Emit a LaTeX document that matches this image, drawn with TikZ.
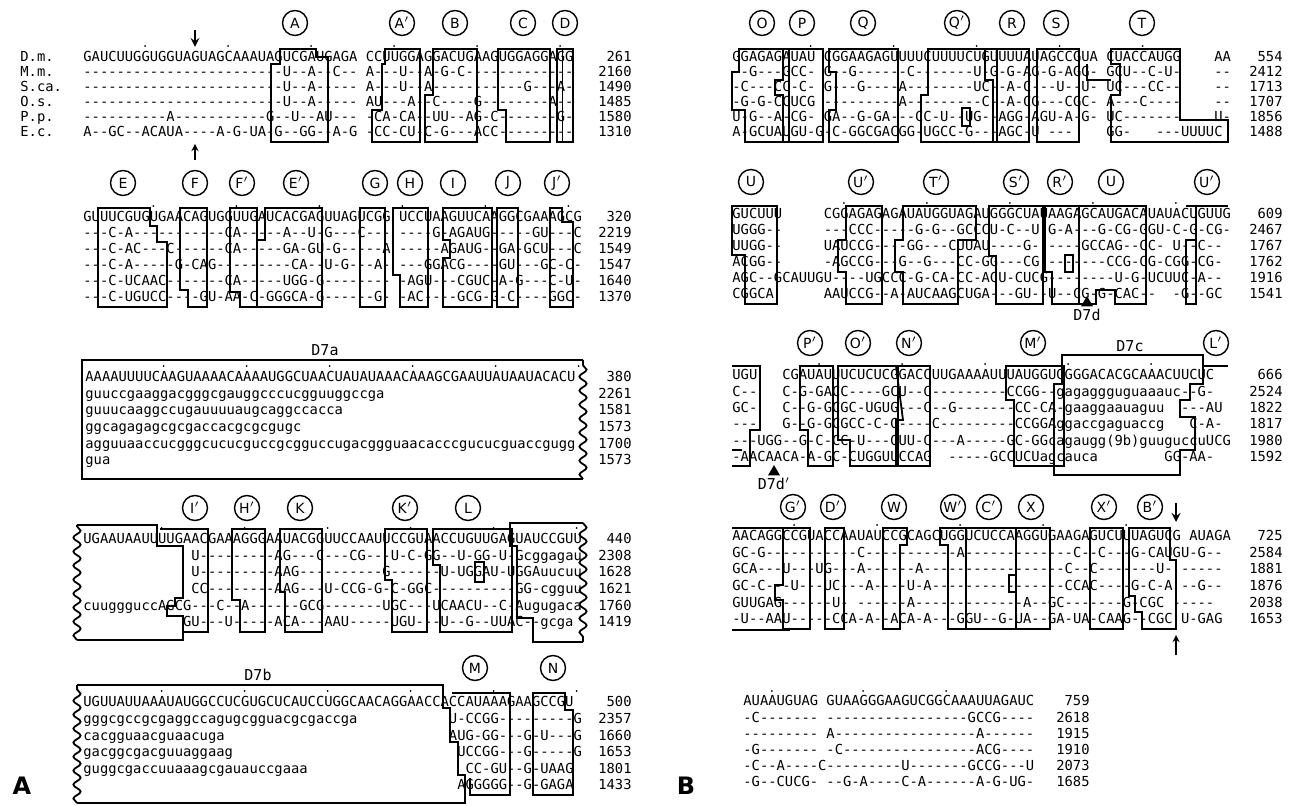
\documentclass[tikz,border=0pt]{standalone}
\usepackage{fontspec}
\setmonofont{DejaVu Sans Mono}
\setsansfont{DejaVu Sans}
\usetikzlibrary{shapes.geometric, arrows, positioning}
\usetikzlibrary{decorations.pathmorphing}

\newlength{\cw}
\AtBeginDocument{\settowidth{\cw}{\ttfamily\fontsize{6.9}{7}\selectfont M}}
\newcommand{\sgap}[1]{\hspace*{#1\cw}}

\begin{document}
\begin{tikzpicture}[x=0.5pt, y=-0.5pt, >=stealth,
    seq/.style={font=\ttfamily\fontsize{6.9}{7}\selectfont, inner sep=0pt, anchor=west, text height=5pt, text depth=1.2pt},
    num/.style={seq, anchor=east},
    hlx/.style={circle, draw, line width=0.7pt, minimum size=12.5pt, inner sep=0pt, font=\sffamily\fontsize{7}{7}\selectfont},
    hx/.style={draw, line width=0.9pt},
    wavy/.style={decorate, decoration={snake, amplitude=1.8pt, segment length=7pt}},
    tag/.style={font=\ttfamily\fontsize{7.5}{8}\selectfont, inner sep=1pt},
    tri/.style={regular polygon, regular polygon sides=3, fill, inner sep=0pt, minimum size=7pt},
    panel/.style={font=\sffamily\bfseries\fontsize{12}{12}\selectfont, inner sep=0pt}]

    \useasboundingbox (0,0) rectangle (1290,806);

    % ---------------- Panel A ----------------

    % Species names
    \foreach \sp [count=\i] in {D.m., M.m., S.ca., O.s., P.p., E.c.}
        \node[seq] (sp\i) at (20, 43+15*\i) {\sp};

    % Block A1: sequences and lengths
    \foreach \s/\n [count=\i] in {
        GAUCUUGGUGGUAGUAGCAAAUAGUCGAUGAGA CCUUGGAGGACUGAAGUGGAGGAGG/261,
        ------------------------U--A--C-- A---U--A-G-C-------------/2160,
        ------------------------U--A----- A---U--A-----------G---A-/1490,
        ------------------------U--A----- AU---A--C----G--------A--/1485,
        ----------A-----------G--U--AU--- -CA-CA--UU--AG-C-------G-/1580,
        A--GC--ACAUA----A-G-UA-G--GG--A-G -CC-CU-C-G---ACC---------/1310}{
        \node[seq] (a1r\i) at (83, 43+15*\i) {\s};
        \node[num] (a1n\i) at (632, 43+15*\i) {\n};
    }
    \foreach \c in {7,17,...,57}
        \fill (87+8.3*\c, 46) circle (1);
    \foreach \l/\x/\n in {A/295/a, A$'$/402/ap, B/455/b, C/523/c, D/565/d}
        \node[hlx] (h\n) at (\x,23) {\l};
    % helices, block A1
    \draw[hx] (280,49) -- (316,49) -- (316,57) -- (328,57) -- (328,142) -- (271,142) -- (271,64) -- (280,64) -- cycle;
    \draw[hx] (385,49) -- (420,49) -- (420,142) -- (372,142) -- (372,110) -- (382,110) -- (382,64) -- (385,64) -- cycle;
    \draw[hx] (433,49) -- (477,49) -- (477,142) -- (425,142) -- (425,95) -- (433,95) -- cycle;
    \draw[hx] (498,49) -- (550,49) -- (550,142) -- (506,142) -- (506,110) -- (498,110) -- cycle;
    \draw[hx] (557,49) rectangle (573,142);
    \draw (562,49) -- (562,142);
    % cut sites
    \coordinate (cut1a) at (195,30);
    \coordinate (cut1b) at (195,47);
    \coordinate (cut2a) at (195,160);
    \coordinate (cut2b) at (195,144);
    \draw[->, line width=1pt] (cut1a) -- (cut1b);
    \draw[->, line width=0.6pt] (cut2a) -- (cut2b);

    % Block A2
    \foreach \s/\n [count=\i] in {
        GUUUCGUGUGAACAGUGGUUGAUCACGAGUUAGUCGG UCCUAAGUUCAAGGCGAAAGCG/320,
        ---C-A-----------CA-----A--U-G---C--- ----G-AGAUG-----GU---C/2219,
        ---C-AC---C------CA-----GA-GU-G-----A -----AGAUG--GA-GCU---C/1549,
        ---C-A-----G-CAG---------CA--U-G---A- ---GGACG----GU---GC-C-/1547,
        ---C-UCAAC-------CA-----UGG-G-------- -AGU---CGUC-A-G---C-U-/1640,
        ---C-UGUCC----GU-AA-C-GGGCA-G------G- -AC----GCG-G-C----GGC-/1370}{
        \node[seq] (a2r\i) at (83, 202+16*\i) {\s};
        \node[num] (a2n\i) at (632, 202+16*\i) {\n};
    }
    \foreach \c in {8,18,...,58}
        \fill (87+8.3*\c, 206) circle (1);
    \foreach \l/\x/\n in {E/123/e, F/195/f, F$'$/242/fp, E$'$/296/ep, G/375/g, H/410/h, I/453/i, J/508/j, J$'$/557/jp}
        \node[hlx] (h\n) at (\x,183) {\l};
    \draw[hx] (98,208) -- (150,208) -- (150,226) -- (157,226) -- (157,242) -- (167,242) -- (167,307) -- (98,307) -- cycle;
    \draw[hx] (180,208) -- (207,208) -- (207,307) -- (188,307) -- (188,290) -- (180,290) -- cycle;
    \draw[hx] (230,208) -- (257,208) -- (257,307) -- (240,307) -- (240,292) -- (230,292) -- cycle;
    \draw[hx] (265,208) -- (322,208) -- (322,307) -- (257,307) -- (257,240) -- (265,240) -- cycle;
    \draw[hx] (360,208) rectangle (385,307);
    \draw[hx] (393,208) -- (428,208) -- (428,307) -- (400,307) -- (400,275) -- (393,275) -- cycle;
    \draw[hx] (443,208) -- (492,208) -- (492,307) -- (443,307) -- (443,258) -- (450,258) -- (450,240) -- (443,240) -- cycle;
    \draw[hx] (497,208) rectangle (518,307);
    \draw[hx] (550,208) -- (562,208) -- (562,222) -- (573,222) -- (573,307) -- (550,307) -- cycle;

    % D7a expansion segment
    \node[tag] (d7a) at (325,350) {D7a};
    \foreach \s/\n [count=\i] in {
        AAAAUUUUCAAGUAAAACAAAAUGGCUAACUAUAUAAACAAAGCGAAUUAUAAUACACU/380,
        guuccgaaggacgggcgauggcccucgguuggccga/2261,
        guuucaaggccugauuuuaugcaggccacca/1581,
        ggcagagagcgcgaccacgcgcgugc/1573,
        agguuaaccucgggcucucguccgcgguccugacggguaacacccgucucguaccgugg/1700,
        gua/1573}{
        \node[seq] (dar\i) at (85, 361.4+16.6*\i) {\s};
        \node[num] (dan\i) at (632, 361.4+16.6*\i) {\n};
    }
    \foreach \c in {9,19,...,59}
        \fill (89+8.3*\c, 366) circle (1);
    \draw[hx] (583,360) -- (82,360) -- (82,479) -- (583,479);
    \draw[hx, wavy] (583,479) -- (583,360);

    % Block A4
    \foreach \s/\n [count=\i] in {
        UGAAUAAUUUUGAACGAAAGGGAAUACGGUUCCAAUUCCGUAACCUGUUGAGUAUCCGUU/440,
        \sgap{13}U---------AG---C---CG---U-C-GG--U-GG-U-Gcggagau/2308,
        \sgap{13}U---------AAG----------G------U-UGGAU-UGGAuucuu/1628,
        \sgap{13}CC--------AAG---U-CCG-G-C-GGC----------GG-cgguu/1621,
        cuuggguccAGCG---C--A------GCG-------UGC---UCAACU--C-Augugaca/1760,
        \sgap{12}GU---U-----ACA---AAU-----UGU---U--G--UUAC--gcga/1419}{
        \node[seq] (a4r\i) at (83, 523.4+16.6*\i) {\s};
        \node[num] (a4n\i) at (632, 523.4+16.6*\i) {\n};
    }
    \foreach \c in {9,19,...,59}
        \fill (87+8.3*\c, 528) circle (1);
    \foreach \l/\x/\n in {I$'$/195/ip, H$'$/247/hp, K/300/k, K$'$/405/kp, L/468/l}
        \node[hlx] (h\n) at (\x,508) {\l};
    \draw[hx] (77,525) -- (157,525) -- (157,546) -- (183,546) -- (183,598) -- (175,598) -- (175,606) -- (167,606) -- (167,616) -- (183,616) -- (183,640) -- (77,640);
    \draw[hx, wavy] (77,640) -- (77,525);
    \draw[hx] (160,529) -- (208,529) -- (208,632) -- (183,632);
    \draw[hx] (232,529) -- (265,529) -- (265,632) -- (240,632) -- (240,600) -- (232,600) -- cycle;
    \draw[hx] (280,529) -- (322,529) -- (322,632) -- (285,632) -- (285,592) -- (280,592) -- cycle;
    \draw[hx] (385,529) -- (427,529) -- (427,632) -- (392,632) -- (392,580) -- (385,580) -- cycle;
    \draw[hx] (433,529) -- (512,529) -- (512,632) -- (440,632) -- (440,565) -- (433,565) -- cycle;
    \draw[hx] (475,562) rectangle (484,582);
    \draw[hx] (583,642) -- (533,642) -- (533,618) -- (517,618) -- (517,546) -- (510,546) -- (510,523) -- (583,523);
    \draw[hx, wavy] (583,523) -- (583,642);

    % D7b expansion segment
    \node[tag] (d7b) at (258,675) {D7b};
    \foreach \s/\n [count=\i] in {
        UGUUAUUAAAUAUGGCCUCGUGCUCAUCCUGGCAACAGGAACCACCAUAAAGAAGCCGU/500,
        gggcgccgcgaggccagugcgguacgcgaccga\sgap{11}U-CCGG---------G/2357,
        cacgguaacguaacuga\sgap{27}AUG-GG---G-U---G/1660,
        gacggcgacguuaggaag\sgap{27}UCCGG---G-----G/1653,
        guggcgaccuuaaagcgauauccgaaa\sgap{19}CC-GU--G-UAAG/1801,
        \sgap{45}AGGGGG--G-GAGA/1433}{
        \node[seq] (dbr\i) at (83, 686.4+16.6*\i) {\s};
        \node[num] (dbn\i) at (632, 686.4+16.6*\i) {\n};
    }
    \foreach \c in {9,19,...,59}
        \fill (87+8.3*\c, 691) circle (1);
    \foreach \l/\x/\n in {M/475/m, N/553/n}
        \node[hlx] (h\n) at (\x,668) {\l};
    \draw[hx] (77,685) -- (443,685) -- (443,708) -- (450,708) -- (450,742) -- (458,742) -- (458,775) -- (465,775) -- (465,803) -- (77,803);
    \draw[hx, wavy] (77,803) -- (77,685);
    \draw[hx] (452,693) -- (510,693) -- (510,795) -- (470,795) -- (470,778);
    \draw[hx] (533,693) -- (565,693) -- (565,710) -- (573,710) -- (573,795) -- (533,795) -- cycle;

    \node[panel] (pA) at (22,786) {A};

    % ---------------- Panel B ----------------

    % Block B1
    \foreach \s/\n [count=\i] in {
        GGAGAGAUAU CGGAAGAGUUUUCUUUUCUGUUUUAUAGCCGUA CUACCAUGG\sgap{4}AA/554,
        --G---GCC- G--G------C-------U-G-G-AG-G-AGG- GCU--C-U-\sgap{4}--/2412,
        -C---CC-C- G---G----A--------UC--A-C---U--U- UC---CC--\sgap{4}--/1713,
        -G-G-CCUCG ---------A---------C--A-CG---CGC- A---C----\sgap{4}--/1707,
        U-G--A-CG- GA--G-GA---CC-U--UG--AGG-AGU-A-G- UC-------\sgap{4}U-/1856,
        A-GCUAUGU-G-C-GGCGACGG-UGCC-G---AGC-U ---\sgap{4}GG-\sgap{3}---UUUUC/1488}{
        \node[seq] (b1r\i) at (732, 43+15*\i) {\s};
        \node[num] (b1n\i) at (1283, 43+15*\i) {\n};
    }
    \foreach \c in {9,19,...,49}
        \fill (736+8.3*\c, 46) circle (1);
    \foreach \l/\x/\n in {O/762/o, P/802/p, Q/863/q, Q$'$/957/qp, R/1012/r, S/1056/s, T/1142/t}
        \node[hlx] (h\n) at (\x,23) {\l};
    \draw[hx] (739,49) -- (789,49) -- (789,142) -- (745,142) -- (745,110) -- (732,110) -- (732,72) -- (739,72) -- cycle;
    \draw[hx] (783,49) -- (823,49) -- (823,142) -- (783,142) -- (783,95) -- (775,95) -- (775,80) -- (783,80) -- cycle;
    \draw[hx] (829,49) -- (898,49) -- (898,142) -- (829,142) -- (829,110) -- (836,110) -- (836,72) -- (829,72) -- cycle;
    \draw[hx] (928,49) -- (997,49) -- (997,142) -- (921,142) -- (921,95) -- (928,95) -- cycle;
    \draw[hx] (962,108) rectangle (970,126);
    \draw[hx] (985,49) -- (1029,49) -- (1029,142) -- (993,142) -- (993,80) -- (985,80) -- cycle;
    \draw[hx] (1037,49) -- (1079,49) -- (1079,142) -- (1037,142) -- cycle;
    \draw[hx] (1111,49) -- (1180,49) -- (1180,120) -- (1228,120) -- (1228,142) -- (1111,142) -- (1111,95) -- (1120,95) -- (1120,64) -- (1111,64) -- cycle;
    \draw[hx] (1087,64) -- (1087,80) -- (1111,80);

    % Block B2
    \foreach \s/\n [count=\i] in {
        GUCUUU\sgap{5}CGGAGAGAGAUAUGGUAGAUGGGCUAUAAGAGCAUGACAUAUACUGUUG/609,
        UGGG--\sgap{5}---CCC-----G-G--GCCCU-C--U-G-A---G-CG-GGU-C-G-CG-/2467,
        UUGG--\sgap{5}UAUCCG----GG---CUUAU----G------GCCAG--CC- U--C--/1767,
        ACGG--\sgap{5}-AGCCG---G--G---CC-GG---CG--------CCG-CG-CGG-CG-/1762,
        AGC--GCAUUGU----UGCCC-G-CA-CC-ACU-CUCG--------U-G-UCUUC-A--/1916,
        CGGCA\sgap{6}AAUCCG--A-AUCAAGCUGA---GU--U--CG-G-CAC--\sgap{2}-G--GC/1541}{
        \node[seq] (b2r\i) at (732, 199+16*\i) {\s};
        \node[num] (b2n\i) at (1283, 199+16*\i) {\n};
    }
    \foreach \c in {13,23,...,53}
        \fill (736+8.3*\c, 203) circle (1);
    \foreach \l/\x/\n in {U/751/u, U$'$/861/up, T$'$/936/tp, S$'$/1016/sp, R$'$/1060/rp, U/1111/v, U$'$/1207/vp}
        \node[hlx] (h\n) at (\x,182) {\l};
    \draw[hx] (732,206) -- (777,206) -- (777,304) -- (745,304) -- (745,255) -- (732,255) -- cycle;
    \draw[hx] (846,206) -- (882,206) -- (882,304) -- (846,304) -- (846,272) -- (838,272) -- (838,240) -- (846,240) -- cycle;
    \draw[hx] (903,206) -- (976,206) -- (976,240) -- (958,240) -- (958,304) -- (903,304) -- (903,272) -- (895,272) -- (895,240) -- (903,240) -- cycle;
    \draw[hx] (989,206) -- (1043,206) -- (1043,304) -- (996,304) -- (996,256) -- (989,256) -- cycle;
    \draw[hx] (1045,206) -- (1079,206) -- (1079,304) -- (1052,304) -- (1052,272) -- (1045,272) -- cycle;
    \draw[hx] (1065,255) rectangle (1073,272);
    \draw[hx] (1079,206) -- (1146,206) -- (1146,304) -- (1115,304) -- (1115,290) -- (1096,290) -- (1096,304) -- (1079,304);
    \draw[hx] (1186,206) -- (1228,206);
    \draw[hx] (1196,206) -- (1196,304) -- (1186,304) -- (1186,240) -- (1196,240);
    \node[tri] (t7d) at (1087,303) {};
    \node[tag, below=0pt of t7d] (l7d) {D7d};

    % Block B3
    \foreach \s/\n [count=\i] in {
        UGU\sgap{3}CGAUAUUUCUCUCGGACCUUGAAAAUUUAUGGUGGGGACACGCAAACUUCUC/666,
        C--\sgap{3}C-G-GACC----GCU--C---------CCGG--gagaggguguaaauc--G-/2524,
        GC-\sgap{3}C--G-GCGC-UGUG---C--G-------CC-CA-gaaggaauaguu\sgap{2}---AU/1822,
        ---\sgap{3}G--G-GCGCC-C-G----C---------CCGGAggaccgaguaccg\sgap{3}C-A-/1817,
        ---UGG--G-C-CC-U---GUU-C---A-----GC-GGcagaugg(9b)guuguccuUCG/1980,
        -AACAACA-A-GC-CUGGUUCCAG\sgap{2}-----GCCUCUagcauca\sgap{8}GG-AA-/1592}{
        \node[seq] (b3r\i) at (732, 359.6+16.4*\i) {\s};
        \node[num] (b3n\i) at (1283, 359.6+16.4*\i) {\n};
    }
    \foreach \c in {10,20,...,50}
        \fill (736+8.3*\c, 364) circle (1);
    \foreach \l/\x/\n in {P$'$/810/pp, O$'$/858/op, N$'$/909/np, M$'$/1033/mp, L$'$/1216/lp}
        \node[hlx] (h\n) at (\x,343) {\l};
    \node[tag] (d7c) at (1130,346) {D7c};
    \draw[hx] (732,366) -- (760,366) -- (760,430) -- (750,430) -- (750,466) -- (732,466);
    \draw[hx] (732,450) -- (742,450);
    \draw[hx] (800,366) -- (833,366) -- (833,466) -- (808,466) -- (808,430) -- (800,430) -- cycle;
    \draw[hx] (838,366) -- (898,366) -- (898,466) -- (850,466) -- (850,440) -- (838,440) -- cycle;
    \draw[hx] (896,366) -- (930,366) -- (930,466) -- (896,466) -- (896,420) -- (903,420) -- cycle;
    \draw[hx] (1006,366) -- (1064,366) -- (1064,466) -- (1014,466) -- (1014,400) -- (1006,400) -- cycle;
    \draw[hx] (1062,355) -- (1203,355) -- (1203,384) -- (1190,384) -- (1190,400) -- (1180,400) -- (1180,417) -- (1195,417) -- (1195,450) -- (1180,450) -- (1180,475) -- (1054,475) -- (1054,384) -- (1062,384) -- cycle;
    \draw[hx] (1203,366) -- (1228,366);
    \node[tri] (t7dp) at (774,472) {};
    \node[tag, below=0pt of t7dp] (l7dp) {D7d$'$};

    % Block B4
    \foreach \s/\n [count=\i] in {
        AACAGGCCGUACCAAUAUCCGCAGCUGGUCUCCAAGGUGAAGAGUCUUUAGUCG AUAGA/725,
        GC-G-----------C-----------A-------------C--C---G-CAUGU-G--/2584,
        GCA---U---UG---A------A-----------------C--C-------U- -----/1881,
        GC-C---U---UC---A----U-A----------------CCAC----G-C-A --G--/1876,
        GUUGAG------U- ------A-------------A--GC-------G-CGC -----/2038,
        -U--AAU-----CCA-A--ACA-A---GGU--G-UA--GA-UA-CAAG--CGC U-GAG/1653}{
        \node[seq] (b4r\i) at (732, 520.4+16.6*\i) {\s};
        \node[num] (b4n\i) at (1283, 520.4+16.6*\i) {\n};
    }
    \foreach \c in {7,17,...,47}
        \fill (736+8.3*\c, 525) circle (1);
    \foreach \l/\x/\n in {G$'$/793/gp, D$'$/833/dp, W/894/w, W$'$/953/wp, C$'$/989/cp, X/1031/x, X$'$/1104/xp, B$'$/1150/bp}
        \node[hlx] (h\n) at (\x,507) {\l};
    \draw[line width=1.2pt] (732,528) -- (790,528);
    \draw[line width=1.2pt] (732,630) -- (790,630);
    \draw[hx] (783,528) -- (810,528) -- (810,629) -- (783,629) -- (783,600) -- (775,600) -- (775,585) -- (783,585) -- cycle;
    \draw[hx] (825,528) rectangle (844,629);
    \draw[hx] (883,528) -- (907,528) -- (907,545) -- (900,545) -- (900,629) -- (883,629) -- cycle;
    \draw[hx] (940,528) -- (966,528) -- (966,629) -- (948,629) -- (948,545) -- (940,545) -- cycle;
    \draw[hx] (966,528) -- (1016,528) -- (1016,629) -- (966,629);
    \draw[hx] (1009,575) rectangle (1016,592);
    \draw[hx] (1016,528) -- (1050,528) -- (1050,629) -- (1016,629);
    \draw[hx] (1090,528) -- (1123,528) -- (1123,629) -- (1090,629) -- cycle;
    \draw[hx] (1129,528) -- (1170,528) -- (1170,560) -- (1176,560) -- (1176,629) -- (1142,629) -- (1142,612) -- (1135,612) -- (1135,596) -- (1129,596) -- cycle;
    \coordinate (cut3a) at (1176,503);
    \coordinate (cut3b) at (1176,522);
    \coordinate (cut4a) at (1176,655);
    \coordinate (cut4b) at (1176,635);
    \draw[->, line width=1pt] (cut3a) -- (cut3b);
    \draw[->, line width=0.6pt] (cut4a) -- (cut4b);

    % Block B5
    \foreach \s/\n [count=\i] in {
        AUAAUGUAG GUAAGGGAAGUCGGCAAAUUAGAUC/759,
        -C------- -----------------GCCG----/2618,
        --------- A-----------------A------/1915,
        -G------- -C----------------ACG----/1910,
        -C--A----C---------U-------GCCG---U/2073,
        -G--CUCG- --G-A----C-A------A-G-UG-/1685}{
        \node[seq] (b5r\i) at (743, 685.8+16.2*\i) {\s};
        \node[num] (b5n\i) at (1090, 685.8+16.2*\i) {\n};
    }
    \foreach \c in {3,14,24}
        \fill (747+8.3*\c, 691) circle (1);

    \node[panel] (pB) at (686,786) {B};

\end{tikzpicture}
\end{document}
